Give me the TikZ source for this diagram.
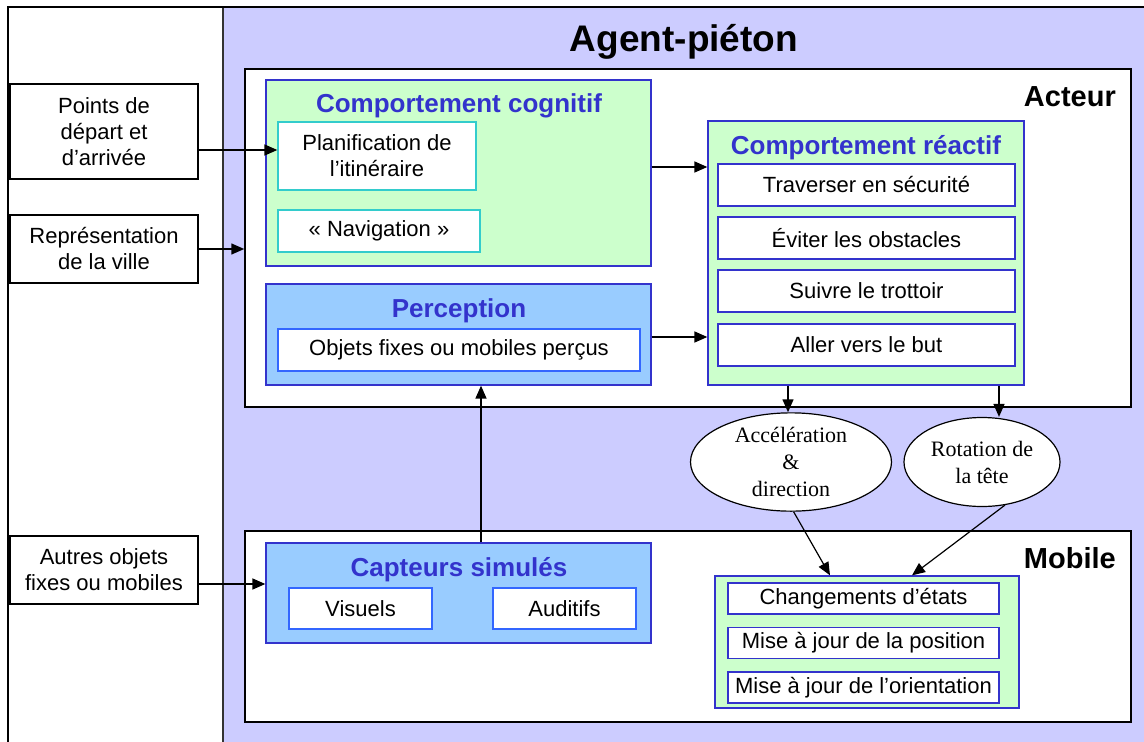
\documentclass[tikz,border=0pt]{standalone}
\usepackage{fontspec}
\setmainfont{Liberation Sans}
\newfontfamily\serifx{Liberation Serif}
\usetikzlibrary{arrows.meta,shapes.geometric}
\definecolor{purp}{HTML}{CCCCFF}
\definecolor{lgreen}{HTML}{CCFFCC}
\definecolor{lblue}{HTML}{99CCFF}
\definecolor{tblue}{HTML}{3333CC}
\definecolor{cyanb}{HTML}{33CCCC}
\definecolor{bblue}{HTML}{3366FF}
\begin{document}
\begin{tikzpicture}[x=1pt,y=-1pt,
  every node/.style={font=\fontsize{22}{26}\selectfont, inner sep=0pt, align=center},
  inbox/.style={draw=black, line width=1.5pt, fill=white},
  layer/.style={draw=black, line width=1.5pt, fill=white},
  greenbox/.style={draw=tblue, line width=1.3pt, fill=lgreen},
  bluebox/.style={draw=tblue, line width=1.3pt, fill=lblue},
  cyanitem/.style={draw=cyanb, line width=1.3pt, fill=white},
  blueitem/.style={draw=bblue, line width=1.3pt, fill=white},
  navyitem/.style={draw=tblue, line width=1.3pt, fill=white},
  title/.style={font=\fontsize{26}{30}\selectfont\bfseries, text=tblue},
  big/.style={font=\fontsize{29}{34}\selectfont\bfseries},
  oval/.style={ellipse, draw=black, line width=1.2pt, fill=white, font=\fontsize{22}{27}\selectfont\serifx},
  arr/.style={line width=1.5pt, -{Triangle[length=13pt,width=11pt]}},
  thinarr/.style={line width=1.2pt, -{Triangle[length=13pt,width=11pt]}}
]
\useasboundingbox (0,0) rectangle (1144,742);
\clip (0,0) rectangle (1144,742);
% outer frame and agent region
\fill[white] (0,0) rectangle (1144,742);
\fill[purp] (223,7) rectangle (1160,760);
\draw[line width=1.5pt, black!80] (223,7) -- (223,760);
\draw[line width=2pt] (8,760) -- (8,7) -- (1160,7);
\node[font=\fontsize{37}{42}\selectfont\bfseries] (agent) at (684,42) {Agent-piéton};

% inputs
\node[inbox, minimum width=188pt, minimum height=95pt] (pts) at (104,131.5) {Points de\\départ et\\d’arrivée};
\node[inbox, minimum width=188pt, minimum height=68pt] (rep) at (104,249) {Représentation\\de la ville};
\node[inbox, minimum width=188pt, minimum height=68pt] (autres) at (104,570) {Autres objets\\fixes ou mobiles};

% acteur layer
\node[layer, minimum width=886pt, minimum height=338pt] (acteur) at (688,238) {};
\node[big, anchor=east] (acteurlbl) at (1116,97) {Acteur};

\node[greenbox, minimum width=385pt, minimum height=186pt] (cog) at (458.5,173) {};
\node[title] (cogt) at (459,106) {Comportement cognitif};
\node[cyanitem, minimum width=198pt, minimum height=68pt] (planif) at (377,156) {Planification de\\l’itinéraire};
\node[cyanitem, minimum width=202pt, minimum height=42pt] (navig) at (379,231) {« Navigation »};

\node[bluebox, minimum width=385pt, minimum height=101pt] (perc) at (458.5,334.5) {};
\node[title] (perct) at (459,311) {Perception};
\node[blueitem, minimum width=362pt, minimum height=42pt] (objets) at (459,350) {Objets fixes ou mobiles perçus};

\node[greenbox, minimum width=316pt, minimum height=264pt] (reac) at (866,253) {};
\node[title] (react) at (866,148) {Comportement réactif};
\node[navyitem, minimum width=297pt, minimum height=42pt] (r1) at (866.5,185) {Traverser en sécurité};
\node[navyitem, minimum width=297pt, minimum height=42pt] (r2) at (866.5,238) {Éviter les obstacles};
\node[navyitem, minimum width=297pt, minimum height=42pt] (r3) at (866.5,291) {Suivre le trottoir};
\node[navyitem, minimum width=297pt, minimum height=42pt] (r4) at (866.5,345) {Aller vers le but};

% mobile layer
\node[layer, minimum width=886pt, minimum height=191pt] (mobile) at (688,626.5) {};
\node[big, anchor=east] (mobilelbl) at (1116,558) {Mobile};

\node[bluebox, minimum width=385pt, minimum height=100pt] (capt) at (458.5,593) {};
\node[title] (captt) at (459,570) {Capteurs simulés};
\node[blueitem, minimum width=143pt, minimum height=41pt] (vis) at (360.5,608.5) {Visuels};
\node[blueitem, minimum width=143pt, minimum height=41pt] (aud) at (564.5,608.5) {Auditifs};

\node[greenbox, minimum width=304pt, minimum height=132pt] (states) at (867,642) {};
\node[navyitem, minimum width=271pt, minimum height=31pt] (s1) at (863.5,598.5) {Changements d’états};
\node[navyitem, minimum width=271pt, minimum height=31pt] (s2) at (863.5,643) {Mise à jour de la position};
\node[navyitem, minimum width=271pt, minimum height=31pt] (s3) at (863.5,687.5) {Mise à jour de l’orientation};

% ellipses
\node[oval, minimum width=201pt, minimum height=89pt] (acc) at (791,462) {Accélération\\\&\\direction};
\node[oval, minimum width=156pt, minimum height=89pt] (rot) at (982,462) {Rotation de\\la tête};

% connectors
\draw[arr] (pts.east |- 0,150) -- (planif.west |- 0,150);
\draw[arr] (rep.east) -- (acteur.west |- rep.east);
\draw[arr] (autres.east |- 0,584) -- (capt.west |- 0,584);
\draw[arr] (cog.east |- 0,167) -- (reac.west |- 0,167);
\draw[arr] (perc.east |- 0,337) -- (reac.west |- 0,337);
\draw[arr] (capt.north -| 481,0) -- (perc.south -| 481,0);
\draw[arr] (reac.south -| 788,0) -- (acc.north -| 788,0);
\draw[arr] (reac.south -| 999,0) -- (rot.north -| 999,0);
\draw[thinarr] (acc.-87) -- (states.north -| 830,0);
\draw[thinarr] (rot.-62) -- (states.north -| 912,0);
\end{tikzpicture}
\end{document}
